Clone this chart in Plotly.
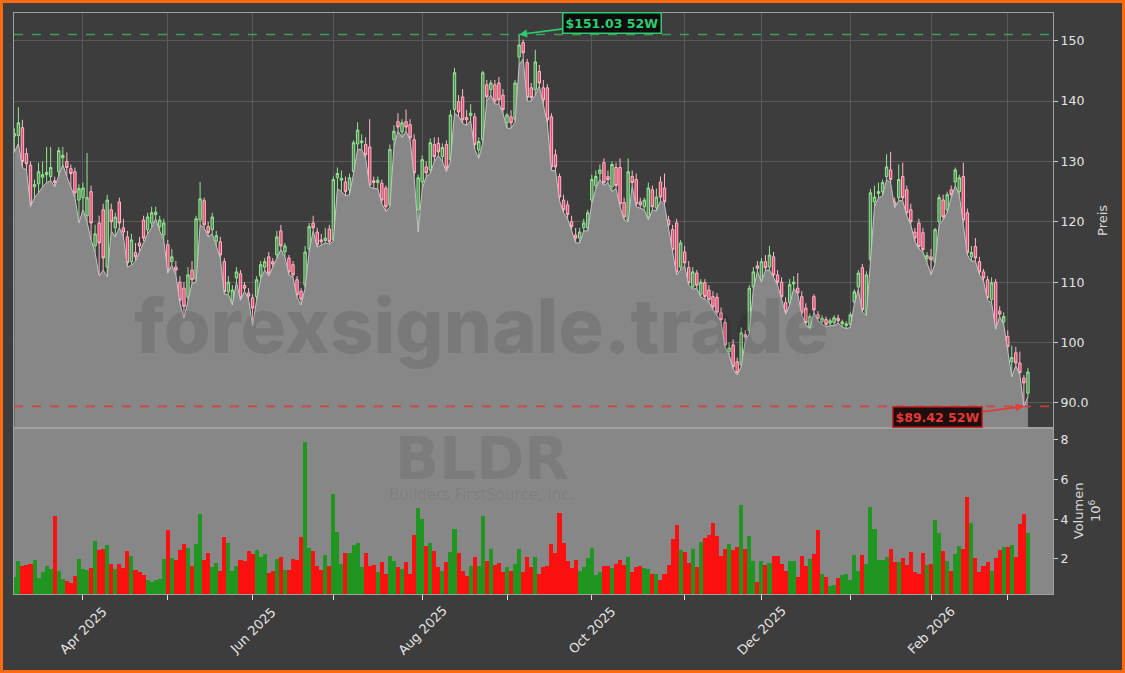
import pandas as pd
import plotly.graph_objects as go
from plotly.subplots import make_subplots

# ---------------- data ----------------
holidays = ["2025-04-18", "2025-05-26", "2025-06-19", "2025-07-04", "2025-09-01",
            "2025-11-27", "2025-12-25", "2026-01-01", "2026-01-19", "2026-02-16"]
trade_days = [d for d in pd.bdate_range("2025-03-07", "2026-03-09")
              if d.strftime("%Y-%m-%d") not in holidays]

opens = [
    134.2, 134.3, 135.6, 131.3, 129.4, 125.8, 126.3, 127.4, 127.8, 127.5,
    126.8, 128.3, 130.6, 130.0, 128.8, 128.3, 123.6, 124.0, 121.0, 125.0,
    116.0, 119.8, 122.0, 112.5, 122.0, 119.0, 123.3, 119.0, 117.5, 113.4,
    114.9, 116.5, 120.3, 118.7, 119.8, 121.2, 119.2, 117.8, 116.2, 113.4,
    112.5, 110.0, 109.0, 107.5, 112.0, 110.5, 120.3, 123.5, 119.2, 118.7,
    116.8, 116.7, 113.4, 108.4, 106.7, 110.7, 111.4, 109.5, 108.2, 107.4,
    107.6, 111.0, 112.5, 114.2, 113.4, 114.5, 118.5, 115.0, 114.0, 112.9,
    110.4, 108.5, 109.5, 115.5, 119.8, 118.3, 117.0, 116.9, 118.8, 117.0,
    127.3, 126.9, 126.6, 125.3, 128.3, 132.9, 133.1, 132.8, 132.4, 126.8,
    126.5, 126.4, 125.6, 122.8, 133.6, 136.6, 134.9, 136.6, 136.1, 133.6,
    122.0, 126.6, 129.1, 128.6, 132.8, 133.0, 130.8, 132.8, 130.3, 138.6,
    139.9, 140.7, 137.3, 137.6, 137.4, 131.9, 133.6, 142.7, 141.9, 142.7,
    143.0, 141.0, 136.4, 137.4, 137.0, 147.3, 149.7, 146.4, 142.2, 141.9,
    144.9, 142.2, 142.2, 137.4, 131.1, 127.5, 123.6, 122.8, 120.0, 117.8,
    117.3, 119.0, 119.0, 123.6, 126.0, 128.0, 129.8, 127.5, 125.8, 129.0,
    129.0, 123.2, 120.3, 127.5, 127.0, 123.3, 122.5, 120.8, 125.3, 122.3,
    126.6, 125.6, 120.3, 118.7, 119.8, 112.5, 115.0, 112.4, 109.2, 111.5,
    108.0, 109.9, 108.7, 107.6, 107.5, 104.9, 103.3, 98.5, 99.6, 96.8,
    96.3, 101.3, 102.0, 109.2, 112.7, 110.4, 113.4, 112.5, 114.2, 111.2,
    110.0, 106.6, 106.6, 109.7, 109.0, 107.6, 105.7, 102.6, 107.6, 104.6,
    103.4, 103.8, 103.2, 103.3, 104.0, 103.1, 102.8, 103.0, 106.7, 109.2,
    112.4, 104.9, 113.7, 123.3, 124.7, 125.0, 127.5, 128.6, 123.3, 124.0,
    127.5, 125.3, 122.0, 118.3, 119.8, 118.2, 113.9, 114.2, 113.4, 120.0,
    123.6, 122.0, 125.3, 126.6, 125.0, 127.5, 121.5, 114.2, 115.9, 113.4,
    111.7, 110.4, 107.1, 110.0, 105.2, 103.4, 101.0, 96.8, 98.3, 96.6,
    94.1, 91.6,
]
highs = [
    135.5, 139.0, 136.9, 132.2, 130.0, 127.0, 129.8, 130.0, 132.4, 132.4,
    127.5, 132.4, 132.4, 131.5, 129.5, 129.0, 126.2, 126.5, 131.4, 126.0,
    119.5, 121.0, 123.0, 124.5, 123.0, 121.5, 124.0, 120.5, 118.5, 118.0,
    116.5, 117.5, 121.0, 121.5, 122.5, 122.5, 121.0, 120.5, 117.0, 115.5,
    113.5, 111.0, 110.0, 112.5, 113.5, 121.0, 126.6, 124.0, 120.0, 121.5,
    118.5, 117.5, 114.0, 111.0, 109.5, 112.5, 112.0, 110.0, 109.0, 108.0,
    111.0, 113.5, 114.0, 115.0, 114.0, 118.5, 119.5, 116.5, 114.5, 113.5,
    111.0, 109.0, 116.0, 119.8, 121.0, 119.0, 118.0, 119.0, 119.5, 127.5,
    129.0, 128.5, 127.5, 128.0, 133.5, 136.5, 134.5, 134.0, 137.0, 127.5,
    127.5, 127.0, 126.0, 132.8, 136.0, 138.0, 137.0, 138.6, 137.0, 134.5,
    127.8, 131.0, 130.0, 133.8, 134.0, 134.0, 133.0, 133.5, 138.5, 145.5,
    141.0, 142.0, 138.5, 139.5, 138.0, 134.0, 145.0, 143.5, 143.5, 143.5,
    144.0, 142.0, 138.0, 138.5, 143.5, 151.03, 150.2, 147.0, 143.0, 148.5,
    146.0, 143.5, 142.8, 138.0, 132.0, 128.0, 124.5, 123.5, 121.0, 119.0,
    119.0, 120.5, 122.0, 127.8, 128.5, 129.5, 130.5, 128.5, 130.0, 129.8,
    130.5, 124.0, 130.5, 128.5, 128.0, 124.0, 124.0, 126.5, 126.0, 125.5,
    127.5, 128.0, 121.0, 119.5, 120.5, 117.0, 116.0, 113.5, 112.5, 112.0,
    110.5, 110.5, 109.5, 108.5, 108.2, 105.8, 104.0, 100.0, 100.5, 97.5,
    102.5, 102.0, 109.5, 112.5, 113.5, 114.0, 114.5, 116.0, 115.0, 112.0,
    110.8, 107.5, 110.5, 111.0, 111.5, 108.5, 106.5, 104.8, 108.0, 105.2,
    104.5, 104.3, 104.0, 104.5, 104.6, 103.8, 103.5, 105.0, 108.8, 112.0,
    113.0, 111.8, 125.5, 126.0, 126.5, 127.0, 131.2, 131.6, 124.0, 129.5,
    129.8, 126.0, 123.0, 119.0, 120.5, 119.0, 115.0, 115.5, 119.0, 124.5,
    124.5, 125.0, 126.0, 129.0, 127.8, 129.8, 122.2, 116.0, 117.3, 114.2,
    112.2, 111.0, 110.8, 110.5, 106.0, 105.0, 102.0, 99.5, 99.3, 98.5,
    94.6, 95.8,
]
lows = [
    131.5, 133.0, 129.0, 128.6, 122.5, 124.0, 124.8, 125.8, 126.5, 126.8,
    125.8, 127.5, 129.5, 127.5, 125.8, 124.0, 119.8, 122.0, 120.0, 117.0,
    114.9, 111.0, 112.0, 110.9, 118.5, 117.5, 119.0, 117.5, 112.5, 112.8,
    113.5, 115.0, 116.8, 118.0, 119.0, 120.5, 118.5, 117.0, 111.5, 112.8,
    111.2, 106.5, 104.0, 107.0, 109.8, 110.0, 119.5, 119.0, 117.5, 118.0,
    116.0, 114.0, 108.0, 108.0, 106.2, 110.0, 107.0, 108.5, 107.2, 102.8,
    107.0, 110.5, 112.0, 111.0, 112.5, 114.0, 115.4, 114.2, 111.2, 110.8,
    107.5, 106.2, 109.0, 115.0, 118.5, 115.8, 116.2, 116.5, 116.3, 116.8,
    125.5, 125.0, 124.3, 124.5, 128.0, 132.0, 132.0, 130.5, 125.8, 125.5,
    125.5, 123.0, 121.7, 122.5, 132.5, 135.0, 134.0, 135.0, 133.5, 127.5,
    118.3, 125.5, 127.5, 128.0, 130.0, 131.0, 130.0, 128.3, 130.0, 138.0,
    137.5, 136.3, 136.0, 136.8, 132.0, 130.5, 133.0, 140.0, 141.0, 139.5,
    139.5, 138.0, 135.5, 135.5, 136.5, 146.0, 147.0, 140.0, 140.0, 141.0,
    142.5, 139.5, 136.3, 128.5, 128.5, 123.5, 121.5, 120.5, 118.5, 116.5,
    116.5, 118.5, 118.5, 123.0, 125.5, 127.0, 126.0, 126.5, 125.0, 125.5,
    122.5, 120.3, 120.0, 126.0, 122.5, 122.3, 122.0, 120.3, 122.0, 121.8,
    123.5, 122.8, 119.0, 115.0, 111.2, 112.0, 112.7, 109.5, 108.8, 109.0,
    107.5, 107.2, 106.7, 105.5, 104.5, 103.4, 99.2, 98.0, 95.6, 94.6,
    96.0, 100.3, 101.5, 108.8, 111.8, 110.0, 112.0, 112.0, 110.8, 109.5,
    107.2, 104.7, 106.2, 109.0, 108.0, 104.5, 103.0, 102.2, 105.0, 103.6,
    103.0, 102.6, 102.8, 102.8, 103.2, 102.6, 102.3, 102.5, 106.3, 108.8,
    105.0, 104.5, 113.3, 122.5, 124.0, 124.3, 127.0, 126.5, 122.3, 123.5,
    123.5, 121.0, 119.5, 116.8, 115.5, 115.0, 113.3, 111.2, 113.0, 119.5,
    120.3, 121.5, 124.0, 126.0, 124.5, 119.8, 114.5, 113.5, 113.5, 111.2,
    110.2, 107.0, 106.6, 102.2, 104.3, 103.0, 98.5, 94.3, 96.2, 94.6,
    89.42, 91.0,
]
closes = [
    134.6, 136.4, 130.0, 129.6, 123.0, 126.2, 128.3, 127.8, 128.2, 129.0,
    126.5, 131.8, 131.0, 129.0, 128.0, 124.8, 125.5, 125.6, 124.0, 119.8,
    118.0, 116.5, 114.0, 123.6, 120.0, 120.8, 119.8, 118.3, 113.2, 117.0,
    114.2, 116.0, 117.3, 120.8, 121.5, 121.6, 120.3, 119.8, 112.0, 114.2,
    112.0, 107.0, 106.0, 111.2, 110.4, 120.5, 123.8, 119.5, 118.2, 120.8,
    117.7, 114.5, 108.4, 110.0, 108.7, 111.7, 107.4, 109.0, 107.7, 105.7,
    110.4, 112.9, 113.4, 111.5, 113.0, 117.5, 116.0, 116.0, 111.7, 111.2,
    107.9, 107.2, 115.0, 119.2, 119.0, 116.2, 116.7, 117.3, 116.7, 127.0,
    128.0, 127.2, 125.0, 127.3, 133.1, 135.2, 133.4, 131.1, 126.1, 126.5,
    126.9, 123.6, 122.5, 132.0, 135.0, 135.7, 136.4, 135.7, 133.9, 128.1,
    127.3, 130.3, 128.1, 133.1, 130.8, 131.6, 132.3, 128.9, 137.7, 144.7,
    138.2, 136.9, 136.9, 138.0, 132.8, 133.3, 144.7, 140.7, 143.0, 140.0,
    140.2, 138.6, 137.7, 136.4, 143.0, 149.3, 148.0, 140.6, 140.6, 146.5,
    143.0, 140.2, 136.9, 129.1, 129.1, 124.1, 122.0, 121.2, 119.2, 117.3,
    118.3, 119.8, 121.5, 127.0, 127.5, 128.6, 126.5, 127.0, 129.5, 126.0,
    123.0, 120.8, 128.3, 126.5, 123.0, 122.8, 123.6, 125.6, 122.5, 124.1,
    124.1, 123.3, 119.5, 115.4, 111.7, 116.5, 113.2, 109.9, 111.7, 109.5,
    110.0, 107.6, 107.1, 105.9, 105.0, 103.8, 99.6, 99.1, 96.0, 95.0,
    101.6, 100.9, 109.0, 111.7, 112.3, 113.4, 112.4, 114.5, 111.2, 110.0,
    107.6, 105.1, 109.6, 110.0, 108.2, 104.9, 103.3, 104.3, 105.4, 104.0,
    104.0, 103.0, 103.6, 104.1, 103.6, 103.4, 103.1, 104.6, 108.4, 111.5,
    105.4, 111.2, 124.8, 124.1, 125.0, 126.5, 129.1, 127.0, 122.8, 127.0,
    124.0, 121.5, 120.0, 117.3, 115.9, 115.4, 114.4, 113.7, 118.7, 124.0,
    120.8, 124.5, 124.5, 128.6, 127.3, 120.3, 114.9, 114.9, 114.0, 111.7,
    110.7, 107.4, 109.9, 102.6, 104.7, 104.3, 99.3, 97.5, 96.6, 95.0,
    93.3, 95.1,
]
volumes_mio = [
    1.09, 1.90, 1.65, 1.70, 1.75, 1.95, 1.04, 1.34, 1.65, 1.50,
    4.18, 1.39, 0.99, 0.89, 0.78, 1.14, 2.00, 1.50, 1.45, 1.55,
    2.90, 2.45, 2.50, 2.70, 1.75, 1.50, 1.75, 1.55, 2.40, 2.15,
    1.45, 1.37, 1.20, 0.94, 0.85, 0.94, 0.99, 2.00, 3.47, 2.05,
    1.95, 2.45, 2.76, 2.55, 1.65, 2.76, 4.28, 1.95, 2.30, 1.60,
    1.80, 1.39, 3.10, 2.80, 1.39, 1.65, 1.95, 1.90, 2.40, 2.25,
    2.45, 2.10, 2.25, 1.30, 1.39, 2.00, 2.10, 1.45, 1.45, 2.00,
    1.95, 3.10, 7.87, 2.55, 2.40, 1.65, 1.45, 2.20, 1.65, 5.30,
    3.37, 1.75, 2.30, 2.30, 2.70, 2.80, 1.60, 2.30, 1.65, 1.70,
    1.34, 1.85, 1.25, 2.15, 1.90, 1.60, 1.50, 1.85, 1.25, 3.20,
    4.58, 4.03, 2.65, 2.80, 2.40, 1.60, 1.39, 1.85, 2.35, 3.50,
    2.30, 1.39, 1.14, 1.65, 2.10, 1.65, 4.18, 1.90, 2.50, 1.70,
    1.80, 1.34, 1.60, 1.39, 1.75, 2.50, 1.34, 2.10, 1.60, 2.10,
    1.25, 1.60, 1.65, 2.76, 2.30, 4.33, 2.80, 1.90, 1.55, 1.95,
    1.39, 1.60, 2.05, 2.55, 1.20, 1.34, 1.65, 1.65, 1.55, 1.75,
    1.95, 1.70, 2.10, 1.34, 1.60, 1.65, 1.55, 1.50, 1.25, 1.25,
    0.94, 1.25, 1.70, 3.00, 3.70, 2.45, 2.35, 1.80, 2.50, 1.60,
    2.85, 3.05, 3.20, 3.82, 3.15, 2.15, 2.50, 2.76, 2.45, 2.60,
    4.73, 2.50, 3.16, 1.90, 0.84, 1.90, 1.70, 1.80, 2.15, 2.15,
    1.75, 1.39, 1.90, 1.90, 1.09, 2.15, 1.65, 2.00, 2.25, 3.47,
    1.25, 1.09, 0.63, 0.68, 1.04, 1.20, 1.25, 0.94, 2.20, 1.39,
    2.20, 1.75, 4.63, 3.50, 1.95, 1.95, 2.10, 2.50, 1.85, 1.85,
    2.05, 1.70, 2.35, 1.34, 1.25, 2.30, 1.70, 1.75, 3.97, 3.30,
    2.40, 1.90, 1.39, 2.25, 2.65, 2.50, 5.10, 3.82, 2.05, 1.34,
    1.65, 1.85, 1.39, 2.05, 2.45, 2.60, 2.60, 2.70, 2.10, 3.75,
    4.28, 3.30,
]

month_ticks = ["2025-04-01", "2025-05-01", "2025-06-02", "2025-07-01", "2025-08-01",
               "2025-09-02", "2025-10-01", "2025-11-03", "2025-12-01", "2026-01-02",
               "2026-02-02", "2026-03-02"]
month_labels = ["Apr 2025", "", "Jun 2025", "", "Aug 2025", "", "Oct 2025", "",
                "Dec 2025", "", "Feb 2026", ""]
price_ticks = [90, 100, 110, 120, 130, 140, 150]
price_ticktext = ["90.0", "100", "110", "120", "130", "140", "150"]
vol_ticks = [2, 4, 6, 8]

ticker = "BLDR"
company = "Builders FirstSource, Inc."
watermark = "forexsignale.trade"

# ---------------- derived ----------------
n = min(len(trade_days), len(opens), len(highs), len(lows), len(closes), len(volumes_mio))
xs = [d.strftime("%Y-%m-%d") + " 12:00" for d in trade_days[:n]]
opens, highs, lows, closes, volumes_mio = (opens[:n], highs[:n], lows[:n],
                                          closes[:n], volumes_mio[:n])
vol_colors = ["#1f961f" if c >= o else "#ff1010" for o, c in zip(opens, closes)]
hi_val = max(highs)
hi_idx = highs.index(hi_val)
lo_val = min(lows)
lo_idx = lows.index(lo_val)
tick_x = [t + " 12:00" for t in month_ticks]

BG = "#3d3d3d"
GRID = "#5a5a5a"
TXT = "#e4e4e4"
FONT = "DejaVu Sans"

fig = make_subplots(rows=2, cols=1, shared_xaxes=True, vertical_spacing=0,
                    row_heights=[0.714, 0.286])

# area following the lows
fig.add_trace(go.Scatter(x=xs, y=lows, mode="lines", fill="tozeroy",
                         fillcolor="#878787", line=dict(color="#c4c4c4", width=1),
                         hoverinfo="skip", showlegend=False), row=1, col=1)

fig.add_trace(go.Candlestick(
    x=xs, open=opens, high=highs, low=lows, close=closes,
    increasing=dict(line=dict(color="#93e593", width=1), fillcolor="#5c8c5c"),
    decreasing=dict(line=dict(color="#ffb8c8", width=1), fillcolor="#ea4a70"),
    whiskerwidth=0, showlegend=False), row=1, col=1)

fig.add_trace(go.Bar(x=xs, y=volumes_mio, marker=dict(color=vol_colors, line=dict(width=0)),
                     width=86400000, showlegend=False), row=2, col=1)

rb = [dict(bounds=["sat", "mon"]), dict(values=holidays)]
xrange = ["2025-03-07 10:00", "2026-03-17 17:00"]

fig.update_xaxes(rangebreaks=rb, range=xrange, rangeslider_visible=False,
                 tickvals=tick_x, showticklabels=False,
                 showline=True, mirror=True, linecolor="#a0a0a0", linewidth=1,
                 zeroline=False)
fig.update_xaxes(showgrid=True, gridcolor=GRID, gridwidth=1, ticks="", row=1, col=1)
fig.update_xaxes(showgrid=False, ticks="outside", ticklen=5, tickcolor="#dddddd",
                 row=2, col=1)

fig.update_yaxes(side="right", range=[85.86, 154.6], tickvals=price_ticks,
                 ticktext=price_ticktext, showgrid=True, gridcolor=GRID,
                 ticks="outside", ticklen=4, tickcolor="#cccccc",
                 tickfont=dict(family=FONT, size=12.5, color=TXT),
                 title=dict(text="Preis", font=dict(family=FONT, size=13, color="#d8d8d8"),
                            standoff=10),
                 showline=True, mirror=True, linecolor="#a0a0a0", zeroline=False,
                 row=1, col=1)
fig.update_yaxes(side="right", range=[0.23, 8.6], tickvals=vol_ticks,
                 showgrid=False, ticks="outside", ticklen=4, tickcolor="#cccccc",
                 tickfont=dict(family=FONT, size=12.5, color=TXT),
                 title=dict(text="Volumen<br>10<sup>6</sup>",
                            font=dict(family=FONT, size=13, color="#d8d8d8"), standoff=6),
                 showline=True, mirror=True, linecolor="#a0a0a0", zeroline=False,
                 row=2, col=1)

# volume panel background
fig.add_shape(type="rect", xref="x2 domain", yref="y2 domain", x0=0, x1=1, y0=0, y1=1,
              fillcolor="#878787", line=dict(width=0), layer="below")

# 52-week lines
fig.add_shape(type="line", xref="x domain", yref="y", x0=0, x1=1, y0=hi_val, y1=hi_val,
              line=dict(color="#3cb060", width=1.6, dash="dash"), opacity=0.85)
fig.add_shape(type="line", xref="x domain", yref="y", x0=0, x1=1, y0=lo_val, y1=lo_val,
              line=dict(color="#e03a3a", width=1.6, dash="dash"), opacity=0.85)

fig.add_annotation(x=xs[hi_idx], y=hi_val, xref="x", yref="y",
                   text="<b>$%.2f 52W</b>" % hi_val, showarrow=True,
                   ax=93, ay=-12, arrowhead=2, arrowsize=1, arrowwidth=1.6,
                   arrowcolor="#2ecc71",
                   font=dict(family=FONT, size=12.5, color="#2ecc71"),
                   bgcolor="#0e0e0e", bordercolor="#2ecc71", borderwidth=1.5, borderpad=2)
fig.add_annotation(x=xs[lo_idx], y=lo_val, xref="x", yref="y",
                   text="<b>$%.2f 52W</b>" % lo_val, showarrow=True,
                   ax=-86, ay=11, arrowhead=2, arrowsize=1, arrowwidth=1.6,
                   arrowcolor="#e53935",
                   font=dict(family=FONT, size=12.5, color="#e53935"),
                   bgcolor="#1e0e0e", bordercolor="#c62828", borderwidth=1.5, borderpad=2)

# watermarks
fig.add_annotation(text=watermark, xref="paper", yref="paper", x=0.4504, y=0.463,
                   xanchor="center", yanchor="middle", showarrow=False,
                   font=dict(family="Inter", size=76, color="rgba(0,0,0,0.10)", weight=800))
fig.add_annotation(text=ticker, xref="paper", yref="paper", x=0.4504, y=0.233,
                   xanchor="center", yanchor="middle", showarrow=False,
                   font=dict(family=FONT, size=58, color="rgba(0,0,0,0.08)", weight="bold"))
fig.add_annotation(text=company, xref="paper", yref="paper", x=0.4504, y=0.170,
                   xanchor="center", yanchor="middle", showarrow=False,
                   font=dict(family=FONT, size=15, color="rgba(0,0,0,0.07)"))

# rotated month labels (centred under tick like the original)
for tx, lab in zip(tick_x, month_labels):
    if lab:
        fig.add_annotation(text=lab, x=tx, xref="x2", y=-0.062, yref="paper",
                           xanchor="center", yanchor="middle",
                           showarrow=False, textangle=-45,
                           font=dict(family=FONT, size=13, color=TXT))

# orange frame around the figure
PW, PH, L, T = 1039.0, 581.0, 14.0, 13.0
fig.add_shape(type="rect", xref="paper", yref="paper",
              x0=(1.5 - L) / PW, x1=(1123.5 - L) / PW,
              y0=(T + PH - 671.5) / PH, y1=(T + PH - 1.5) / PH,
              line=dict(color="#ff6a10", width=3), fillcolor="rgba(0,0,0,0)", layer="above")

fig.update_layout(width=1125, height=673, margin=dict(l=14, r=72, t=13, b=79),
                  paper_bgcolor=BG, plot_bgcolor=BG, showlegend=False,
                  font=dict(family=FONT, color=TXT), bargap=0, boxgap=0.15,
                  hovermode=False)

fig.write_html("out.html", config={"displayModeBar": False},
               post_script="document.body.style.margin='0';"
                           "document.body.style.overflow='hidden';")
